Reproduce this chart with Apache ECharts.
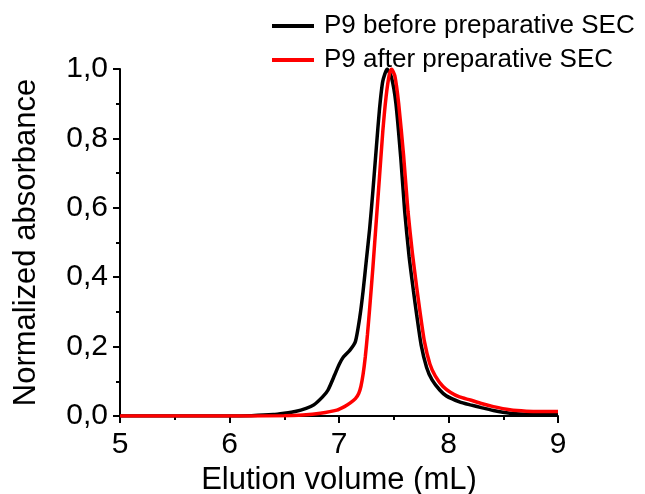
<!DOCTYPE html>
<html>
<head>
<meta charset="utf-8">
<script src="https://cdn.jsdelivr.net/npm/echarts@6/dist/echarts.min.js"></script>
<style>
html,body{margin:0;padding:0;background:#fff;}
#chart{width:645px;height:494px;}
</style>
</head>
<body>
<div id="chart"></div>
<script>
const seriesNames = ['P9 before preparative SEC', 'P9 after preparative SEC'];

const beforeX = [5.0, 5.5, 6.0, 6.2, 6.4, 6.5, 6.6, 6.7, 6.77, 6.85, 6.9, 6.96, 7.0, 7.04, 7.1, 7.15, 7.19, 7.22, 7.25, 7.28, 7.31, 7.34, 7.37, 7.40, 7.44, 7.48, 7.52, 7.565, 7.60, 7.64, 7.68, 7.71, 7.75, 7.80, 7.85, 7.92, 7.98, 8.1, 8.2, 8.3, 8.41, 8.56, 8.7, 8.85, 9.0];
const beforeY = [0.0, 0.0, 0.0, 0.001, 0.004, 0.008, 0.013, 0.022, 0.032, 0.055, 0.075, 0.118, 0.148, 0.170, 0.190, 0.215, 0.285, 0.360, 0.450, 0.540, 0.650, 0.770, 0.885, 0.965, 1.0, 0.975, 0.900, 0.740, 0.590, 0.460, 0.360, 0.290, 0.205, 0.140, 0.104, 0.075, 0.058, 0.041, 0.032, 0.024, 0.016, 0.008, 0.005, 0.004, 0.004];

const afterX = [5.0, 6.0, 6.5, 6.67, 6.83, 6.98, 7.05, 7.10, 7.15, 7.18, 7.20, 7.22, 7.24, 7.26, 7.28, 7.31, 7.34, 7.37, 7.40, 7.43, 7.46, 7.48, 7.51, 7.545, 7.59, 7.63, 7.67, 7.71, 7.74, 7.78, 7.83, 7.88, 7.95, 8.02, 8.1, 8.2, 8.3, 8.41, 8.56, 8.71, 8.85, 9.0];
const afterY = [0.0, 0.0, 0.001, 0.003, 0.008, 0.017, 0.027, 0.037, 0.050, 0.065, 0.085, 0.120, 0.170, 0.235, 0.310, 0.430, 0.560, 0.690, 0.820, 0.920, 0.985, 1.0, 0.980, 0.900, 0.750, 0.590, 0.470, 0.370, 0.300, 0.215, 0.150, 0.115, 0.085, 0.068, 0.055, 0.046, 0.036, 0.027, 0.018, 0.014, 0.013, 0.013];

const xTicks = [5, 6, 7, 8, 9];
const yTicks = [0, 0.2, 0.4, 0.6, 0.8, 1.0];

const FONT = 'Liberation Sans, Arial, sans-serif';
const zip = (xs, ys) => xs.map((x, i) => [x, ys[i]]);

const chart = echarts.init(document.getElementById('chart'), null, {renderer: 'canvas'});
chart.setOption({
  animation: false,
  backgroundColor: '#ffffff',
  grid: {left: 120, right: 87, top: 69, bottom: 78, containLabel: false, outerBoundsMode: 'none'},
  legend: {
    orient: 'vertical',
    left: 272,
    top: 12,
    padding: 0,
    icon: 'rect',
    itemWidth: 42,
    itemHeight: 4,
    itemGap: 6,
    data: seriesNames,
    textStyle: {fontFamily: FONT, fontSize: 26, color: '#000', lineHeight: 28, padding: [0, 0, 0, 5]}
  },
  xAxis: {
    type: 'value',
    min: xTicks[0], max: xTicks[xTicks.length - 1], interval: 1,
    name: 'Elution volume (mL)',
    nameLocation: 'middle',
    nameGap: 49,
    nameTextStyle: {fontFamily: FONT, fontSize: 31, color: '#000'},
    axisLine: {show: true, onZero: false, lineStyle: {color: '#000', width: 2}},
    axisTick: {show: true, inside: false, length: 7, lineStyle: {color: '#000', width: 2}},
    minorTick: {show: true, splitNumber: 2, length: 4, lineStyle: {color: '#000', width: 2}},
    splitLine: {show: false},
    axisLabel: {fontFamily: FONT, fontSize: 30, color: '#000', margin: 14,
      formatter: v => String(v)}
  },
  yAxis: {
    type: 'value',
    min: yTicks[0], max: yTicks[yTicks.length - 1], interval: 0.2,
    name: 'Normalized absorbance',
    nameLocation: 'middle',
    nameRotate: 90,
    nameGap: 78,
    nameTextStyle: {fontFamily: FONT, fontSize: 31, color: '#000'},
    axisLine: {show: true, onZero: false, lineStyle: {color: '#000', width: 2}},
    axisTick: {show: true, inside: false, length: 7, lineStyle: {color: '#000', width: 2}},
    minorTick: {show: true, splitNumber: 2, length: 4, lineStyle: {color: '#000', width: 2}},
    splitLine: {show: false},
    axisLabel: {fontFamily: FONT, fontSize: 30, color: '#000', margin: 12,
      formatter: v => v.toFixed(1).replace('.', ',')}
  },
  series: [
    {
      name: seriesNames[0], type: 'line', data: zip(beforeX, beforeY),
      showSymbol: false, smooth: 0.2,
      lineStyle: {color: '#000000', width: 3.5}, itemStyle: {color: '#000000'}, z: 2
    },
    {
      name: seriesNames[1], type: 'line', data: zip(afterX, afterY),
      showSymbol: false, smooth: 0.2,
      lineStyle: {color: '#ff0000', width: 3.5}, itemStyle: {color: '#ff0000'}, z: 3
    }
  ]
});
</script>
</body>
</html>
